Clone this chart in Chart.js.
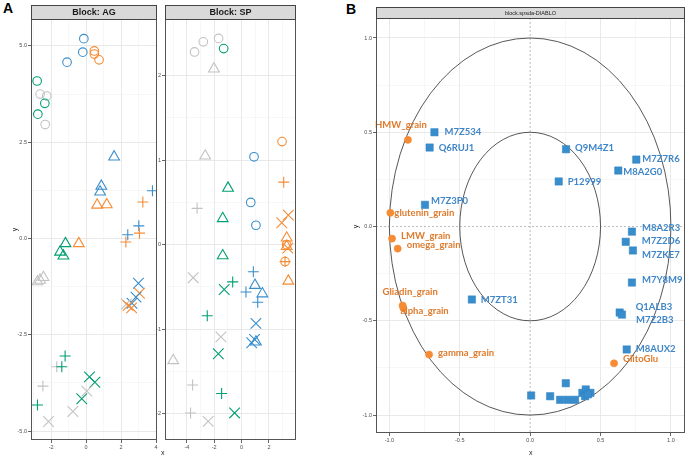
<!DOCTYPE html>
<html>
<head>
<meta charset="utf-8">
<script src="https://cdn.jsdelivr.net/npm/chart.js@4.4.0/dist/chart.umd.min.js"></script>
<style>
    body { margin: 0; width: 695px; height: 461px; background: #fff; position: relative; overflow: hidden; font-family: "Liberation Sans", Arial, sans-serif; }
    canvas { position: absolute; top: 0; }
    .tag { position: absolute; font-weight: bold; font-size: 14px; color: #000; }
    .axt { position: absolute; font-size: 7px; color: #222; line-height: 1; }
</style>
</head>
<body>
<div class="tag" style="left:3px;top:0px">A</div>
<div class="tag" style="left:346px;top:1px">B</div>
<canvas id="agChart" width="160" height="461" style="left:0"></canvas>
<canvas id="spChart" width="145" height="461" style="left:155px"></canvas>
<canvas id="dbChart" width="365" height="461" style="left:330px"></canvas>
<div class="axt" style="left:161px;top:449px">x</div>
<div class="axt" style="left:13px;top:226px;transform:rotate(-90deg)">y</div>
<div class="axt" style="left:529px;top:449px">x</div>
<div class="axt" style="left:354px;top:223px;transform:rotate(-90deg)">y</div>
<script>
// ---- data: sample plots, one entry per sample [x, y, group, factor] ----
const groups = ['g1', 'g2', 'g3', 'g4'];
const factors = ['t1', 't2', 't3', 't4'];

const agPoints = [
    [-0.13, 5.19, 'g1', 't1'], [-0.19, 4.84, 'g1', 't1'], [-1.09, 4.58, 'g1', 't1'],
    [0.47, 4.87, 'g2', 't1'], [0.47, 4.79, 'g2', 't1'], [0.74, 4.64, 'g2', 't1'],
    [-2.80, 4.09, 'g4', 't1'], [-2.63, 3.75, 'g3', 't1'], [-2.25, 3.70, 'g3', 't1'],
    [-2.36, 3.51, 'g4', 't1'], [-2.76, 3.23, 'g4', 't1'], [-2.34, 2.96, 'g3', 't1'],
    [1.60, 2.12, 'g1', 't2'], [0.87, 1.36, 'g1', 't2'], [0.80, 1.21, 'g1', 't2'],
    [0.63, 0.87, 'g2', 't2'], [1.18, 0.88, 'g2', 't2'], [-1.18, -0.13, 'g4', 't2'],
    [-0.42, -0.13, 'g2', 't2'], [-1.49, -0.35, 'g4', 't2'], [-1.30, -0.45, 'g4', 't2'],
    [-2.44, -1.01, 'g3', 't2'], [-2.63, -1.08, 'g3', 't2'], [-2.78, -1.12, 'g3', 't2'],
    [3.79, 1.24, 'g1', 't3'], [3.24, 0.95, 'g2', 't3'], [3.01, 0.33, 'g1', 't3'],
    [2.38, 0.10, 'g1', 't3'], [3.05, 0.14, 'g2', 't3'], [2.27, -0.09, 'g2', 't3'],
    [-1.20, -3.05, 'g4', 't3'], [-1.68, -3.33, 'g3', 't3'], [-1.39, -3.33, 'g4', 't3'],
    [-2.47, -3.83, 'g3', 't3'], [-2.78, -4.32, 'g4', 't3'],
    [2.99, -1.16, 'g1', 't4'], [3.05, -1.42, 'g2', 't4'], [2.85, -1.52, 'g1', 't4'],
    [2.62, -1.68, 'g1', 't4'], [2.30, -1.70, 'g3', 't4'], [2.40, -1.74, 'g2', 't4'],
    [2.60, -1.80, 'g2', 't4'],
    [0.19, -3.59, 'g4', 't4'], [0.50, -3.73, 'g4', 't4'], [-0.25, -4.16, 'g4', 't4'],
    [0.04, -3.96, 'g3', 't4'], [-0.76, -4.49, 'g3', 't4'], [-2.15, -4.75, 'g3', 't4']
];

const spPoints = [
    [-3.44, 2.28, 'g3', 't1'], [-2.80, 2.40, 'g3', 't1'], [-1.68, 2.44, 'g3', 't1'],
    [-1.31, 2.32, 'g4', 't1'], [2.96, 1.22, 'g2', 't1'], [0.91, 1.04, 'g1', 't1'],
    [0.67, 0.50, 'g1', 't1'], [1.05, 0.23, 'g1', 't1'], [3.30, 0.00, 'g2', 't1'],
    [3.18, -0.20, 'g2', 't1'],
    [-2.02, 2.08, 'g3', 't2'], [-2.66, 1.05, 'g3', 't2'], [-0.99, 0.67, 'g4', 't2'],
    [-1.38, 0.31, 'g4', 't2'], [3.30, 0.08, 'g2', 't2'], [3.30, -0.02, 'g2', 't2'],
    [-1.38, -0.13, 'g4', 't2'], [3.42, -0.43, 'g2', 't2'], [0.98, -0.48, 'g1', 't2'],
    [1.52, -0.58, 'g1', 't2'], [1.05, -1.15, 'g1', 't2'], [-5.00, -1.37, 'g3', 't2'],
    [3.08, 0.74, 'g2', 't3'], [-3.25, 0.43, 'g3', 't3'], [3.18, -0.20, 'g2', 't3'],
    [0.86, -0.32, 'g1', 't3'], [-0.65, -0.44, 'g4', 't3'], [0.32, -0.56, 'g1', 't3'],
    [1.18, -0.68, 'g1', 't3'], [-2.51, -0.84, 'g4', 't3'], [-3.58, -1.66, 'g3', 't3'],
    [-1.46, -1.76, 'g4', 't3'], [-3.73, -1.99, 'g3', 't3'],
    [3.42, 0.35, 'g2', 't4'], [2.94, 0.26, 'g2', 't4'], [3.38, -0.04, 'g2', 't4'],
    [-3.54, -0.39, 'g3', 't4'], [-1.27, -0.53, 'g4', 't4'], [1.05, -0.93, 'g1', 't4'],
    [-1.51, -1.09, 'g3', 't4'], [0.74, -1.16, 'g1', 't4'], [0.95, -1.12, 'g1', 't4'],
    [-1.70, -1.29, 'g4', 't4'], [-0.51, -1.99, 'g4', 't4'], [-2.44, -2.09, 'g3', 't4']
];

// ---- data: correlation circle ----
const protNames = ['M7Z534', 'Q6RUJ1', 'M7Z3P0', 'Q9M4Z1', 'M7Z7R6', 'M8A2G0', 'P12999',
    'M8A2R3', 'M7Z2D6', 'M7ZKE7', 'M7Y8M9', 'Q1ALB3', 'M7Z2B3', 'M8AUX2', 'M7ZT31',
    '', '', '', '', '', '', '', '', '', '', ''];
const protX = [-0.68, -0.714, -0.747, 0.255, 0.754, 0.626, 0.203,
    0.723, 0.679, 0.73, 0.723, 0.636, 0.652, 0.686, -0.414,
    0.007, 0.142, 0.253, 0.213, 0.267, 0.319, 0.371, 0.395, 0.39, 0.428, 0.41];
const protY = [0.50, 0.419, 0.115, 0.41, 0.355, 0.297, 0.239,
    -0.027, -0.081, -0.127, -0.297, -0.456, -0.467, -0.652, -0.387,
    -0.896, -0.90, -0.831, -0.919, -0.919, -0.919, -0.882, -0.864, -0.90, -0.882, -0.89];

const traitNames = ['HMW_grain', 'glutenin_grain', 'LMW_grain', 'omega_grain',
    'Gliadin_grain', 'alpha_grain', 'gamma_grain', 'GlitoGlu'];
const traitX = [-0.868, -0.993, -0.981, -0.941, -0.906, -0.90, -0.718, 0.596];
const traitY = [0.46, 0.073, -0.064, -0.117, -0.419, -0.433, -0.679, -0.725];

// ---- tick labels ----
const agXTicks = [-3, -2, -1, 0, 1, 2, 3, 4];
const agXLabels = [-2, 0, 2, 4];
const agYTicks = [-5, -3.75, -2.5, -1.25, 0, 1.25, 2.5, 3.75, 5];
const agYLabels = [-5, -2.5, 0, 2.5, 5];
const spXTicks = [-5, -4, -3, -2, -1, 0, 1, 2, 3];
const spXLabels = [-4, -2, 0, 2];
const spYTicks = [-2, -1.5, -1, -0.5, 0, 0.5, 1, 1.5, 2];
const spYLabels = [-2, -1, 0, 1, 2];
const ccTicks = [-1, -0.75, -0.5, -0.25, 0, 0.25, 0.5, 0.75, 1];
const ccLabels = [-1, -0.5, 0, 0.5, 1];

// ---- styles ----
const groupColor = { g1: '#388ECC', g2: '#F68B33', g3: '#C2C2C2', g4: '#009E73' };
const factorStyle = { t1: 'circle', t2: 'triangle', t3: 'cross', t4: 'crossRot' };
const factorRadius = { t1: 4.3, t2: 6.2, t3: 5.5, t4: 7.5 };

// label nudges (px) for the correlation circle labels
const nudge = {
    'M7Z534': [10, 0], 'Q6RUJ1': [9, 0], 'M7Z3P0': [6, -4], 'Q9M4Z1': [9, -1],
    'M7Z7R6': [6, -1], 'M8A2G0': [5, 1], 'P12999': [9, 0], 'M8A2R3': [10, -4],
    'M7Z2D6': [16, -1], 'M7ZKE7': [9, 4], 'M7Y8M9': [10, -3], 'Q1ALB3': [16, -6],
    'M7Z2B3': [14, 5], 'M8AUX2': [9, -1], 'M7ZT31': [9, 0],
    'HMW_grain': [-33, -15], 'glutenin_grain': [4, 0], 'LMW_grain': [9, -3],
    'omega_grain': [9, -4], 'Gliadin_grain': [-20, -14], 'alpha_grain': [-3, 3],
    'gamma_grain': [9, -2], 'GlitoGlu': [9, -4]
};

Chart.defaults.font.family = '"Liberation Sans", Arial, sans-serif';
Chart.defaults.animation = false;

// facet strip + panel border
const panelDecor = {
    id: 'panelDecor',
    afterDraw(chart, args, opts) {
        const ctx = chart.ctx, a = chart.chartArea;
        ctx.save();
        ctx.lineWidth = 1;
        ctx.strokeStyle = '#555';
        ctx.strokeRect(Math.round(a.left) + 0.5, Math.round(a.top) + 0.5, Math.round(a.width) - 1, Math.round(a.height) - 1);
        const h = opts.stripHeight;
        ctx.fillStyle = '#d9d9d9';
        ctx.fillRect(a.left, a.top - h, a.width, h);
        ctx.strokeStyle = '#444';
        ctx.strokeRect(Math.round(a.left) + 0.5, Math.round(a.top - h) + 0.5, Math.round(a.width) - 1, h);
        ctx.fillStyle = '#1a1a1a';
        ctx.font = opts.stripFont;
        ctx.textAlign = 'center';
        ctx.textBaseline = 'middle';
        ctx.fillText(opts.stripText, (a.left + a.right) / 2, a.top - h / 2 + 1);
        ctx.restore();
    }
};

// reference lines and circles of radius 1 and 0.5
const corCircles = {
    id: 'corCircles',
    beforeDatasetsDraw(chart) {
        const ctx = chart.ctx, xs = chart.scales.x, ys = chart.scales.y, a = chart.chartArea;
        const cx = xs.getPixelForValue(0), cy = ys.getPixelForValue(0);
        ctx.save();
        ctx.strokeStyle = '#aaa';
        ctx.lineWidth = 0.8;
        ctx.setLineDash([2, 2]);
        ctx.beginPath();
        ctx.moveTo(cx, a.top); ctx.lineTo(cx, a.bottom);
        ctx.moveTo(a.left, cy); ctx.lineTo(a.right, cy);
        ctx.stroke();
        ctx.setLineDash([]);
        ctx.strokeStyle = '#444';
        ctx.lineWidth = 0.9;
        [1, 0.5].forEach(function (r) {
            const rx = xs.getPixelForValue(r) - cx, ry = cy - ys.getPixelForValue(r);
            ctx.beginPath();
            ctx.ellipse(cx, cy, rx, ry, 0, 0, Math.PI * 2);
            ctx.stroke();
        });
        ctx.restore();
    }
};

// variable names next to points
const varLabels = {
    id: 'varLabels',
    afterDatasetsDraw(chart) {
        const ctx = chart.ctx;
        ctx.save();
        ctx.font = 'bold 9.5px Lato, "Open Sans", sans-serif';
        ctx.textAlign = 'left';
        ctx.textBaseline = 'middle';
        chart.data.datasets.forEach(function (ds, i) {
            const meta = chart.getDatasetMeta(i);
            ctx.fillStyle = ds.labelColor;
            ds.names.forEach(function (name, j) {
                if (!name) return;
                const pt = meta.data[j];
                const d = nudge[name] || [9, 0];
                ctx.fillText(name, pt.x + d[0], pt.y + d[1]);
            });
        });
        ctx.restore();
    }
};

function axis(ticksArr, labelled, digits, min, max, size, isX) {
    return {
        type: 'linear',
        min: min,
        max: max,
        afterBuildTicks: function (scale) {
            scale.ticks = ticksArr.map(function (v) { return { value: v }; });
        },
        afterFit: function (scale) {
            if (isX) scale.height = size; else scale.width = size;
            // keep the panel edges fixed, labels may overhang
            scale.paddingLeft = 0; scale.paddingRight = 0;
            scale.paddingTop = 0; scale.paddingBottom = 0;
        },
        border: { display: false },
        grid: {
            color: function (c) {
                if (!c.tick) return 'transparent';
                return labelled.indexOf(c.tick.value) >= 0 ? '#e6e6e6' : '#f1f1f1';
            },
            lineWidth: function (c) {
                return c.tick && labelled.indexOf(c.tick.value) >= 0 ? 0.9 : 0.6;
            },
            tickColor: function (c) {
                return c.tick && labelled.indexOf(c.tick.value) >= 0 ? '#555' : 'transparent';
            },
            tickLength: 3
        },
        ticks: {
            autoSkip: false,
            maxRotation: 0,
            padding: 1,
            color: '#4d4d4d',
            font: { size: 5.5 },
            callback: function (v) {
                return labelled.indexOf(v) >= 0 ? v.toFixed(digits) : '';
            }
        }
    };
}

function sampleDataset(points) {
    return {
        data: points.map(function (p) { return { x: p[0], y: p[1] }; }),
        pointStyle: points.map(function (p) { return factorStyle[p[3]]; }),
        pointRadius: points.map(function (p) { return factorRadius[p[3]]; }),
        borderColor: points.map(function (p) { return groupColor[p[2]]; }),
        backgroundColor: 'transparent',
        pointBorderWidth: 1.1
    };
}

function baseOptions(padding, strip, xAxis, yAxis) {
    return {
        responsive: false,
        maintainAspectRatio: false,
        layout: { padding: padding, autoPadding: false },
        plugins: { legend: { display: false }, tooltip: { enabled: false }, panelDecor: strip },
        scales: { x: xAxis, y: yAxis }
    };
}

new Chart(document.getElementById('agChart'), {
    type: 'scatter',
    data: { datasets: [sampleDataset(agPoints)] },
    options: baseOptions({ top: 19, right: 3, left: 0, bottom: 0 },
        { stripHeight: 14, stripFont: 'bold 9px "Liberation Sans", Arial', stripText: 'Block: AG' },
        axis(agXTicks, agXLabels, 0, -3.15, 4.05, 21, true),
        axis(agYTicks, agYLabels, 1, -5.23, 5.7, 31, false)),
    plugins: [panelDecor]
});

new Chart(document.getElementById('spChart'), {
    type: 'scatter',
    data: { datasets: [sampleDataset(spPoints)] },
    options: baseOptions({ top: 19, right: 4, left: 0, bottom: 0 },
        { stripHeight: 14, stripFont: 'bold 9px "Liberation Sans", Arial', stripText: 'Block: SP' },
        axis(spXTicks, spXLabels, 0, -5.6, 3.98, 21, true),
        axis(spYTicks, spYLabels, 0, -2.31, 2.67, 10, false)),
    plugins: [panelDecor]
});

const ccX = axis(ccTicks, ccLabels, 1, -1.095, 1.1, 28, true);
const ccY = axis(ccTicks, ccLabels, 1, -1.095, 1.106, 46, false);
[ccX, ccY].forEach(function (ax) {
    const base = ax.grid.color;
    ax.grid.color = function (c) { return c.tick && c.tick.value === 0 ? 'transparent' : base(c); };
});

new Chart(document.getElementById('dbChart'), {
    type: 'scatter',
    data: {
        datasets: [
            {
                data: protX.map(function (x, i) { return { x: x, y: protY[i] }; }),
                names: protNames,
                labelColor: '#3f86c8',
                pointStyle: 'rect',
                pointRadius: 5.2,
                backgroundColor: '#388ECC',
                borderColor: '#2f7fc0',
                pointBorderWidth: 0.5
            },
            {
                data: traitX.map(function (x, i) { return { x: x, y: traitY[i] }; }),
                names: traitNames,
                labelColor: '#de7a2c',
                pointStyle: 'circle',
                pointRadius: 3.6,
                backgroundColor: '#F68B33',
                borderColor: '#F68B33',
                pointBorderWidth: 0.5
            }
        ]
    },
    options: baseOptions({ top: 18, right: 10, left: 0, bottom: 0 },
        { stripHeight: 11, stripFont: '5.5px "Liberation Sans", Arial', stripText: 'block.spsda-DIABLO' },
        ccX, ccY),
    plugins: [corCircles, varLabels, panelDecor]
});
</script>
</body>
</html>
